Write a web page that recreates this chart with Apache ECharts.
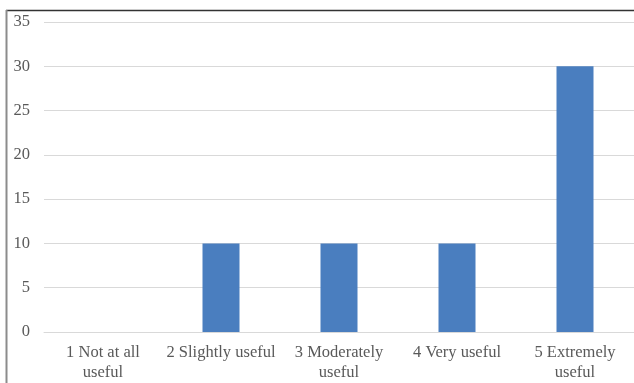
<!DOCTYPE html>
<html>
<head>
<meta charset="utf-8">
<script src="https://cdn.jsdelivr.net/npm/echarts@6/dist/echarts.min.js"></script>
<style>html,body{margin:0;padding:0;background:#fff}#c{width:634px;height:383px}</style>
</head>
<body>
<div id="c"></div>
<script>
const categories = ["1 Not at all\nuseful", "2 Slightly useful", "3 Moderately\nuseful", "4 Very useful", "5 Extremely\nuseful"];
const values = [0, 10, 10, 10, 30];
const yTicks = [0, 5, 10, 15, 20, 25, 30, 35];

const chart = echarts.init(document.getElementById('c'), null, {renderer: 'canvas'});
const font = '"Liberation Serif", "DejaVu Serif", serif';
chart.setOption({
  animation: false,
  backgroundColor: '#ffffff',
  graphic: [
    {type: 'line', shape: {x1: 6, y1: 10.5, x2: 634, y2: 10.5}, style: {stroke: '#333333', lineWidth: 1.5}},
    {type: 'line', shape: {x1: 6.5, y1: 10, x2: 6.5, y2: 383}, style: {stroke: '#8c8c8c', lineWidth: 2}}
  ],
  grid: {left: 44, right: -3, top: 22, bottom: 49, containLabel: false},
  xAxis: {
    type: 'category',
    data: categories,
    axisLine: {show: true, lineStyle: {color: '#d9d9d9', width: 1}},
    axisTick: {show: false},
    axisLabel: {color: '#595959', fontFamily: font, fontSize: 16.5, lineHeight: 20, margin: 11, interval: 0}
  },
  yAxis: {
    type: 'value',
    min: yTicks[0],
    max: yTicks[yTicks.length - 1],
    interval: 5,
    axisLine: {show: false},
    axisTick: {show: false},
    splitLine: {lineStyle: {color: '#d9d9d9', width: 1}},
    axisLabel: {color: '#595959', fontFamily: font, fontSize: 16.5, margin: 14}
  },
  series: [{
    type: 'bar',
    data: values,
    barWidth: 37,
    itemStyle: {color: '#4a7ebf'}
  }]
});
</script>
</body>
</html>
